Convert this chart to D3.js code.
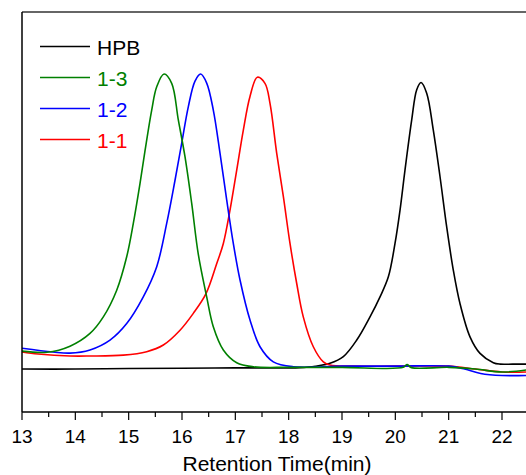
<!DOCTYPE html>
<html>
<head>
<meta charset="utf-8">
<script src="https://cdn.jsdelivr.net/npm/d3@7"></script>
<style>
	body { margin: 0; background: #fff; }
	svg { display: block; font-family: Arial, "Liberation Sans", sans-serif; }
</style>
</head>
<body>
<svg id="gpc_svg"></svg>
<script>
// retention time (min) and normalised detector response
const hpbTime = [13.0, 14.0, 15.0, 16.0, 17.0, 18.0, 18.2, 18.5, 18.775, 19.025, 19.276, 19.525, 19.713, 19.869, 19.994, 20.088, 20.181, 20.307, 20.401, 20.482, 20.588, 20.712, 20.838, 20.963, 21.087, 21.212, 21.4, 21.588, 21.837, 21.963, 22.2, 22.45];
const hpbValue = [0.0, 0.0, 0.002, 0.003, 0.004, 0.004, 0.005, 0.010, 0.020, 0.043, 0.100, 0.180, 0.249, 0.318, 0.433, 0.548, 0.686, 0.859, 0.963, 0.988, 0.951, 0.824, 0.663, 0.490, 0.341, 0.226, 0.111, 0.054, 0.022, 0.017, 0.017, 0.017];

const s13Time = [13.0, 13.47, 13.9, 14.275, 14.525, 14.776, 14.963, 15.087, 15.213, 15.306, 15.432, 15.526, 15.663, 15.807, 15.931, 16.056, 16.182, 16.306, 16.463, 16.587, 16.775, 17.026, 17.337, 18.0, 19.0, 20.15, 20.22, 20.3, 21.0, 21.5, 22.0, 22.45];
const s13Value = [0.062, 0.058, 0.079, 0.123, 0.180, 0.272, 0.387, 0.502, 0.640, 0.752, 0.893, 0.973, 1.017, 0.985, 0.859, 0.732, 0.571, 0.395, 0.249, 0.146, 0.066, 0.022, 0.008, 0.006, 0.006, 0.006, 0.016, 0.005, 0.006, 0.0, -0.010, -0.003];

const s12Time = [13.0, 13.58, 13.9, 14.275, 14.65, 14.963, 15.274, 15.526, 15.713, 15.869, 15.994, 16.118, 16.244, 16.35, 16.463, 16.587, 16.713, 16.838, 16.962, 17.088, 17.275, 17.463, 17.712, 18.087, 19.0, 20.0, 21.0, 21.3, 21.6, 22.0, 22.45];
const s12Value = [0.072, 0.059, 0.055, 0.066, 0.100, 0.157, 0.249, 0.353, 0.502, 0.651, 0.778, 0.904, 0.993, 1.017, 0.986, 0.893, 0.744, 0.583, 0.433, 0.307, 0.169, 0.077, 0.025, 0.008, 0.010, 0.010, 0.010, 0.0, -0.015, -0.022, -0.022];

const s11Time = [13.0, 13.3, 13.9, 14.275, 14.9, 15.338, 15.65, 15.963, 16.212, 16.45, 16.65, 16.775, 16.9, 17.026, 17.15, 17.275, 17.412, 17.556, 17.65, 17.776, 17.9, 18.025, 18.151, 18.274, 18.462, 18.65, 18.775, 19.2, 20.0, 21.0, 21.5, 22.0, 22.45];
const s11Value = [0.059, 0.052, 0.045, 0.045, 0.048, 0.060, 0.083, 0.134, 0.192, 0.260, 0.363, 0.433, 0.548, 0.686, 0.824, 0.940, 1.006, 0.985, 0.916, 0.744, 0.595, 0.433, 0.295, 0.180, 0.077, 0.025, 0.014, 0.010, 0.010, 0.010, 0.0, -0.010, -0.010];

const seriesNames = ["HPB", "1-3", "1-2", "1-1"];
const seriesColors = ["#000000", "#008000", "#0000ff", "#ff0000"];
const xTicks = [13, 14, 15, 16, 17, 18, 19, 20, 21, 22];

const width = 526;
const height = 475;
const margin = { top: 12, right: 0, bottom: 63, left: 22 };

const svg = d3.select("#gpc_svg")
	.attr("width", width)
	.attr("height", height);

const x = d3.scaleLinear()
	.domain([13, 22.45])
	.range([margin.left, width - margin.right]);

const y = d3.scaleLinear()
	.domain([-0.148, 1.231])
	.range([height - margin.bottom, margin.top]);

const plotBottom = height - margin.bottom;

// clip so nothing spills over the frame
svg.append("clipPath")
	.attr("id", "plot-clip")
	.append("rect")
	.attr("x", margin.left)
	.attr("y", margin.top)
	.attr("width", width - margin.left)
	.attr("height", plotBottom - margin.top);

const line = d3.line()
	.x(d => x(d[0]))
	.y(d => y(d[1]))
	.curve(d3.curveCatmullRom.alpha(0.5));

const series = [
	{ name: "HPB", time: hpbTime, value: hpbValue, color: seriesColors[0] },
	{ name: "1-1", time: s11Time, value: s11Value, color: seriesColors[3] },
	{ name: "1-2", time: s12Time, value: s12Value, color: seriesColors[2] },
	{ name: "1-3", time: s13Time, value: s13Value, color: seriesColors[1] }
];

const lines = svg.append("g").attr("clip-path", "url(#plot-clip)");

series.forEach(s => {
	lines.append("path")
		.datum(s.time.map((t, i) => [t, s.value[i]]))
		.attr("fill", "none")
		.attr("stroke", s.color)
		.attr("stroke-width", 1.6)
		.attr("stroke-linejoin", "round")
		.attr("d", line);
});

// frame: top and left
svg.append("line")
	.attr("x1", margin.left).attr("x2", width)
	.attr("y1", margin.top).attr("y2", margin.top)
	.attr("stroke", "#333").attr("stroke-width", 1.5);

svg.append("line")
	.attr("x1", margin.left).attr("x2", margin.left)
	.attr("y1", margin.top).attr("y2", plotBottom)
	.attr("stroke", "#000").attr("stroke-width", 1.5);

// bottom axis with minor ticks
const minorTicks = d3.range(13.5, 22.5, 1);

const axisG = svg.append("g")
	.attr("transform", `translate(0, ${plotBottom})`);

axisG.append("line")
	.attr("x1", margin.left).attr("x2", width)
	.attr("stroke", "#000").attr("stroke-width", 1.5);

axisG.selectAll(".minor")
	.data(minorTicks)
	.enter().append("line")
	.attr("class", "minor")
	.attr("x1", d => x(d)).attr("x2", d => x(d))
	.attr("y1", 0).attr("y2", 5)
	.attr("stroke", "#000").attr("stroke-width", 1.2);

axisG.selectAll(".major")
	.data(xTicks)
	.enter().append("line")
	.attr("class", "major")
	.attr("x1", d => x(d)).attr("x2", d => x(d))
	.attr("y1", 0).attr("y2", 8)
	.attr("stroke", "#000").attr("stroke-width", 1.2);

axisG.selectAll(".tick-label")
	.data(xTicks)
	.enter().append("text")
	.attr("class", "tick-label")
	.attr("x", d => x(d))
	.attr("y", 31)
	.attr("text-anchor", "middle")
	.style("font-size", "19px")
	.attr("fill", "#000")
	.text(d => d);

svg.append("text")
	.attr("x", 277)
	.attr("y", 471)
	.attr("text-anchor", "middle")
	.style("font-size", "21px")
	.attr("fill", "#000")
	.text("Retention Time(min)");

// legend
const legend = svg.append("g")
	.attr("transform", "translate(40, 46.5)");

const legendItems = legend.selectAll(".legend-item")
	.data(seriesNames)
	.enter().append("g")
	.attr("class", "legend-item")
	.attr("transform", (d, i) => `translate(0, ${i * 31})`);

legendItems.append("line")
	.attr("x1", 0).attr("x2", 50)
	.attr("stroke", (d, i) => seriesColors[i])
	.attr("stroke-width", 1.6);

legendItems.append("text")
	.attr("x", 57)
	.attr("y", 8)
	.style("font-size", "21px")
	.attr("fill", (d, i) => seriesColors[i])
	.text(d => d);
</script>
</body>
</html>
